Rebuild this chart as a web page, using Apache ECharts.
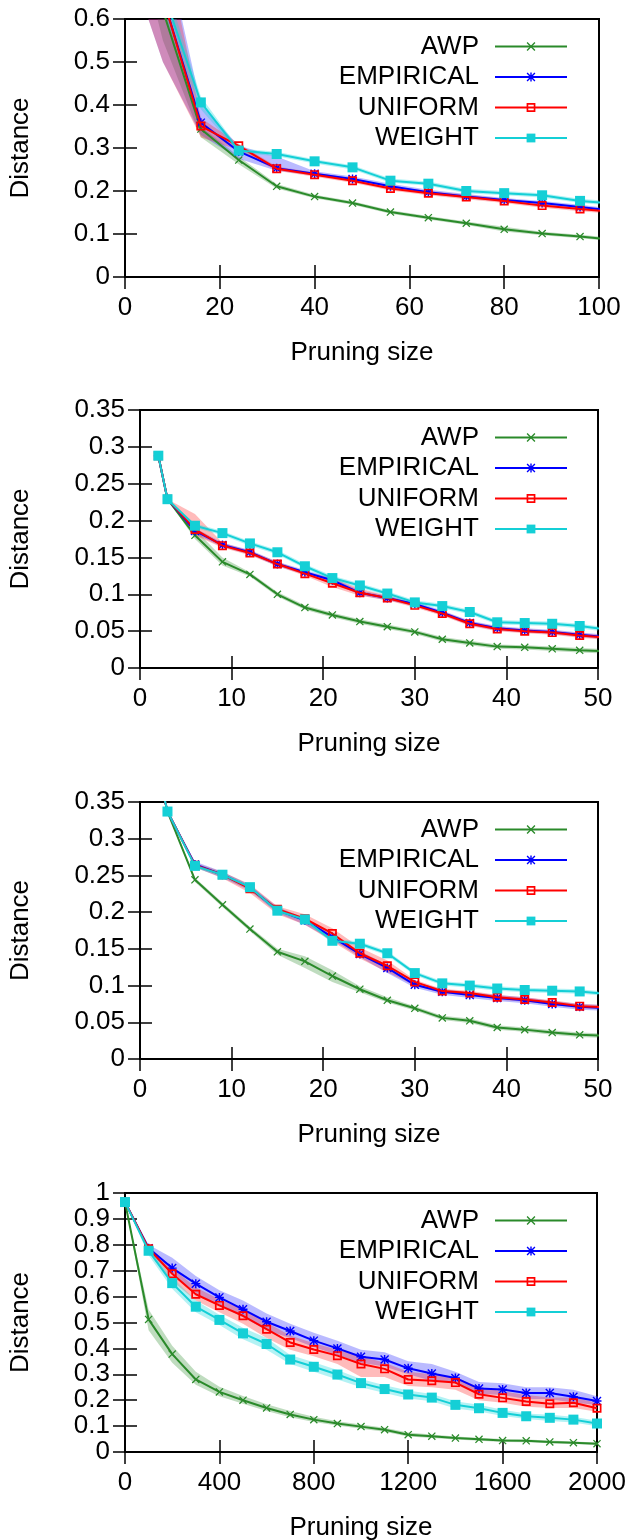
<!DOCTYPE html>
<html>
<head>
<meta charset="utf-8">
<script src="https://cdn.jsdelivr.net/npm/echarts@6/dist/echarts.min.js"></script>
<style>
  html, body { margin: 0; padding: 0; background: #fff; }
  #c { width: 634px; height: 1540px; }
</style>
</head>
<body>
<div id="c"></div>
<script>
// ---------------- DATA ----------------
const seriesNames = ['AWP', 'EMPIRICAL', 'UNIFORM', 'WEIGHT'];

// Panel 1
const p1_x = [0, 8, 16, 24, 32, 40, 48, 56, 64, 72, 80, 88, 96, 104];
const p1_awp    = [1.0, 0.62, 0.344, 0.272, 0.211, 0.187, 0.172, 0.151, 0.138, 0.125, 0.111, 0.101, 0.094, 0.086];
const p1_awp_lo = [0.9, 0.55, 0.325, 0.262, 0.206, 0.183, 0.168, 0.147, 0.134, 0.121, 0.106, 0.097, 0.090, 0.082];
const p1_awp_hi = [1.0, 0.66, 0.350, 0.280, 0.216, 0.191, 0.176, 0.155, 0.142, 0.129, 0.117, 0.105, 0.098, 0.090];
const p1_emp    = [1.0, 0.65, 0.359, 0.292, 0.253, 0.240, 0.228, 0.211, 0.197, 0.187, 0.179, 0.172, 0.163, 0.153];
const p1_emp_lo = [0.76, 0.50, 0.330, 0.275, 0.247, 0.236, 0.224, 0.207, 0.193, 0.183, 0.175, 0.168, 0.159, 0.149];
const p1_emp_hi = [1.0, 0.80, 0.400, 0.305, 0.280, 0.246, 0.234, 0.217, 0.203, 0.193, 0.184, 0.177, 0.168, 0.158];
const p1_uni    = [1.0, 0.65, 0.351, 0.305, 0.252, 0.238, 0.224, 0.206, 0.195, 0.186, 0.177, 0.166, 0.158, 0.151];
const p1_uni_lo = [0.76, 0.50, 0.325, 0.295, 0.247, 0.233, 0.219, 0.201, 0.190, 0.181, 0.172, 0.161, 0.153, 0.146];
const p1_uni_hi = [1.0, 0.80, 0.370, 0.310, 0.257, 0.243, 0.229, 0.211, 0.200, 0.191, 0.182, 0.171, 0.163, 0.156];
const p1_wgt    = [1.0, 0.665, 0.406, 0.294, 0.286, 0.269, 0.255, 0.224, 0.217, 0.200, 0.195, 0.190, 0.177, 0.170];
const p1_wgt_lo = [0.95, 0.62, 0.390, 0.289, 0.281, 0.264, 0.250, 0.219, 0.212, 0.195, 0.190, 0.185, 0.172, 0.165];
const p1_wgt_hi = [1.0, 0.70, 0.420, 0.299, 0.291, 0.274, 0.260, 0.229, 0.222, 0.205, 0.200, 0.195, 0.182, 0.175];

// Panel 2
const p2_x = [2, 3, 6, 9, 12, 15, 18, 21, 24, 27, 30, 33, 36, 39, 42, 45, 48, 51];
const p2_awp    = [0.288, 0.229, 0.180, 0.144, 0.127, 0.100, 0.082, 0.072, 0.063, 0.056, 0.049, 0.039, 0.034, 0.029, 0.028, 0.026, 0.024, 0.0225];
const p2_awp_lo = [0.288, 0.229, 0.175, 0.139, 0.124, 0.097, 0.079, 0.069, 0.060, 0.053, 0.046, 0.036, 0.031, 0.026, 0.025, 0.023, 0.021, 0.0195];
const p2_awp_hi = [0.288, 0.229, 0.188, 0.150, 0.130, 0.103, 0.085, 0.075, 0.066, 0.059, 0.052, 0.042, 0.037, 0.032, 0.031, 0.029, 0.027, 0.0255];
const p2_emp    = [0.288, 0.229, 0.186, 0.167, 0.157, 0.141, 0.130, 0.119, 0.102, 0.095, 0.087, 0.075, 0.061, 0.054, 0.051, 0.049, 0.045, 0.042];
const p2_emp_lo = [0.288, 0.229, 0.182, 0.164, 0.154, 0.138, 0.127, 0.116, 0.099, 0.092, 0.084, 0.072, 0.058, 0.051, 0.048, 0.046, 0.042, 0.039];
const p2_emp_hi = [0.288, 0.229, 0.190, 0.170, 0.160, 0.144, 0.133, 0.122, 0.105, 0.098, 0.090, 0.078, 0.064, 0.057, 0.054, 0.052, 0.048, 0.045];
const p2_uni    = [0.288, 0.229, 0.188, 0.166, 0.156, 0.141, 0.128, 0.115, 0.102, 0.095, 0.085, 0.074, 0.060, 0.053, 0.050, 0.048, 0.044, 0.041];
const p2_uni_lo = [0.288, 0.229, 0.180, 0.163, 0.153, 0.138, 0.125, 0.110, 0.098, 0.092, 0.082, 0.071, 0.057, 0.050, 0.047, 0.045, 0.041, 0.038];
const p2_uni_hi = [0.288, 0.229, 0.209, 0.170, 0.159, 0.144, 0.131, 0.122, 0.108, 0.098, 0.088, 0.077, 0.063, 0.056, 0.053, 0.051, 0.047, 0.044];
const p2_wgt    = [0.288, 0.229, 0.193, 0.183, 0.169, 0.157, 0.138, 0.122, 0.112, 0.101, 0.089, 0.084, 0.076, 0.062, 0.061, 0.060, 0.057, 0.052];
const p2_wgt_lo = [0.288, 0.229, 0.190, 0.180, 0.166, 0.154, 0.135, 0.119, 0.109, 0.098, 0.086, 0.081, 0.073, 0.059, 0.058, 0.057, 0.054, 0.049];
const p2_wgt_hi = [0.288, 0.229, 0.196, 0.186, 0.172, 0.160, 0.141, 0.125, 0.115, 0.104, 0.092, 0.087, 0.079, 0.065, 0.064, 0.063, 0.060, 0.055];

// Panel 3
const p3_x = [2, 3, 6, 9, 12, 15, 18, 21, 24, 27, 30, 33, 36, 39, 42, 45, 48, 51];
const p3_awp    = [0.39, 0.337, 0.244, 0.210, 0.177, 0.146, 0.133, 0.113, 0.095, 0.080, 0.069, 0.056, 0.052, 0.043, 0.040, 0.036, 0.033, 0.0315];
const p3_awp_lo = [0.39, 0.337, 0.241, 0.207, 0.174, 0.142, 0.124, 0.105, 0.091, 0.077, 0.066, 0.053, 0.049, 0.040, 0.037, 0.033, 0.030, 0.0285];
const p3_awp_hi = [0.39, 0.337, 0.247, 0.213, 0.180, 0.150, 0.140, 0.121, 0.099, 0.084, 0.072, 0.059, 0.055, 0.046, 0.043, 0.039, 0.036, 0.0345];
const p3_emp    = [0.39, 0.337, 0.265, 0.251, 0.233, 0.203, 0.189, 0.166, 0.143, 0.124, 0.101, 0.0915, 0.087, 0.083, 0.080, 0.075, 0.071, 0.0695];
const p3_emp_lo = [0.39, 0.337, 0.261, 0.247, 0.229, 0.199, 0.183, 0.162, 0.139, 0.117, 0.097, 0.0875, 0.083, 0.079, 0.076, 0.071, 0.067, 0.0655];
const p3_emp_hi = [0.39, 0.337, 0.269, 0.255, 0.237, 0.207, 0.192, 0.170, 0.147, 0.128, 0.105, 0.0955, 0.091, 0.087, 0.084, 0.079, 0.075, 0.0735];
const p3_uni    = [0.39, 0.337, 0.264, 0.251, 0.232, 0.204, 0.191, 0.171, 0.144, 0.127, 0.105, 0.0925, 0.090, 0.084, 0.081, 0.077, 0.072, 0.0705];
const p3_uni_lo = [0.39, 0.337, 0.261, 0.246, 0.226, 0.197, 0.183, 0.160, 0.137, 0.118, 0.100, 0.0895, 0.087, 0.081, 0.078, 0.074, 0.069, 0.0675];
const p3_uni_hi = [0.39, 0.337, 0.267, 0.255, 0.238, 0.208, 0.197, 0.178, 0.152, 0.134, 0.108, 0.0955, 0.093, 0.087, 0.084, 0.080, 0.075, 0.0735];
const p3_wgt    = [0.39, 0.337, 0.263, 0.251, 0.234, 0.202, 0.190, 0.161, 0.157, 0.144, 0.117, 0.103, 0.100, 0.096, 0.094, 0.093, 0.092, 0.0885];
const p3_wgt_lo = [0.39, 0.337, 0.260, 0.248, 0.231, 0.199, 0.187, 0.158, 0.154, 0.141, 0.114, 0.100, 0.097, 0.093, 0.091, 0.090, 0.089, 0.0855];
const p3_wgt_hi = [0.39, 0.337, 0.266, 0.254, 0.237, 0.205, 0.193, 0.164, 0.160, 0.147, 0.120, 0.106, 0.103, 0.099, 0.097, 0.096, 0.095, 0.0915];

// Panel 4
const p4_x = [0, 100, 200, 300, 400, 500, 600, 700, 800, 900, 1000, 1100, 1200, 1300, 1400, 1500, 1600, 1700, 1800, 1900, 2000];
const p4_awp    = [0.965, 0.512, 0.378, 0.280, 0.232, 0.200, 0.170, 0.145, 0.125, 0.110, 0.098, 0.086, 0.067, 0.061, 0.054, 0.049, 0.044, 0.043, 0.039, 0.036, 0.032];
const p4_awp_lo = [0.965, 0.470, 0.345, 0.260, 0.215, 0.186, 0.158, 0.134, 0.116, 0.102, 0.090, 0.078, 0.060, 0.054, 0.048, 0.043, 0.039, 0.038, 0.034, 0.031, 0.027];
const p4_awp_hi = [0.965, 0.550, 0.410, 0.310, 0.252, 0.216, 0.184, 0.158, 0.136, 0.119, 0.106, 0.094, 0.075, 0.068, 0.060, 0.055, 0.050, 0.048, 0.044, 0.041, 0.037];
const p4_emp    = [0.965, 0.787, 0.710, 0.650, 0.597, 0.551, 0.503, 0.467, 0.430, 0.400, 0.368, 0.357, 0.323, 0.303, 0.286, 0.245, 0.241, 0.228, 0.228, 0.213, 0.197];
const p4_emp_lo = [0.965, 0.775, 0.685, 0.615, 0.565, 0.520, 0.470, 0.440, 0.405, 0.375, 0.345, 0.330, 0.300, 0.275, 0.265, 0.225, 0.220, 0.205, 0.205, 0.190, 0.182];
const p4_emp_hi = [0.965, 0.800, 0.750, 0.680, 0.625, 0.585, 0.535, 0.495, 0.460, 0.430, 0.395, 0.385, 0.350, 0.340, 0.310, 0.270, 0.265, 0.250, 0.250, 0.240, 0.215];
const p4_uni    = [0.965, 0.785, 0.688, 0.609, 0.566, 0.526, 0.474, 0.423, 0.396, 0.372, 0.340, 0.321, 0.280, 0.275, 0.268, 0.223, 0.209, 0.195, 0.186, 0.190, 0.169];
const p4_uni_lo = [0.965, 0.770, 0.660, 0.585, 0.540, 0.495, 0.440, 0.395, 0.370, 0.340, 0.290, 0.290, 0.255, 0.250, 0.240, 0.200, 0.190, 0.175, 0.170, 0.170, 0.155];
const p4_uni_hi = [0.965, 0.795, 0.710, 0.635, 0.590, 0.550, 0.500, 0.450, 0.420, 0.395, 0.370, 0.345, 0.310, 0.300, 0.290, 0.250, 0.235, 0.220, 0.210, 0.210, 0.190];
const p4_wgt    = [0.965, 0.777, 0.652, 0.561, 0.510, 0.458, 0.417, 0.357, 0.329, 0.299, 0.266, 0.243, 0.222, 0.210, 0.182, 0.169, 0.151, 0.138, 0.132, 0.125, 0.110];
const p4_wgt_lo = [0.965, 0.760, 0.630, 0.540, 0.490, 0.435, 0.395, 0.340, 0.310, 0.280, 0.250, 0.228, 0.207, 0.196, 0.168, 0.156, 0.139, 0.127, 0.120, 0.114, 0.099];
const p4_wgt_hi = [0.965, 0.790, 0.675, 0.585, 0.530, 0.480, 0.440, 0.375, 0.347, 0.317, 0.282, 0.258, 0.237, 0.224, 0.196, 0.182, 0.163, 0.149, 0.144, 0.136, 0.121];

// Axis ranges / ticks
const p1_axis = { xMax: 100, xInterval: 20, yMax: 0.6, yInterval: 0.1 };
const p2_axis = { xMax: 50, xInterval: 10, yMax: 0.35, yInterval: 0.05 };
const p3_axis = { xMax: 50, xInterval: 10, yMax: 0.35, yInterval: 0.05 };
const p4_axis = { xMax: 2000, xInterval: 400, yMax: 1, yInterval: 0.1 };

const xTitle = 'Pruning size';
const yTitle = 'Distance';

// ---------------- STYLE / LAYOUT ----------------
const FONT = '"Liberation Sans", Arial, Helvetica, sans-serif';
const LINE_COLORS = ['#2a8a2a', '#0000ff', '#ff0000', '#14cfd6'];
const BAND_COLORS = ['rgba(42,138,42,0.3)', 'rgba(40,40,255,0.32)', 'rgba(255,30,30,0.3)', 'rgba(20,215,220,0.32)'];
const SYM_X = 'path://M0,1.1 L1.1,0 L10,8.9 L8.9,10 Z M8.9,0 L10,1.1 L1.1,10 L0,8.9 Z';
const SYM_STAR = 'path://M4.2,0 H5.8 V10 H4.2 Z M0,4.2 H10 V5.8 H0 Z M0,1.1 L1.1,0 L10,8.9 L8.9,10 Z M8.9,0 L10,1.1 L1.1,10 L0,8.9 Z';
const SYM_OSQ = 'path://M0,0 H10 V10 H0 Z M1.9,1.9 V8.1 H8.1 V1.9 Z';
const SYM_FSQ = 'path://M0,0 H10 V10 H0 Z';
const SYMBOLS = [SYM_X, SYM_STAR, SYM_OSQ, SYM_FSQ];
const SYM_SIZES = [8, 9, 9, 10];

const grids = [
  { left: 125, top: 19, width: 474, height: 258, nameGap: 91 },
  { left: 140, top: 410, width: 458, height: 258, nameGap: 106 },
  { left: 140, top: 802, width: 458, height: 257, nameGap: 106 },
  { left: 125, top: 1193, width: 472, height: 259, nameGap: 91 }
];

const panels = [
  { x: p1_x, axis: p1_axis, data: [[p1_awp, p1_awp_lo, p1_awp_hi], [p1_emp, p1_emp_lo, p1_emp_hi], [p1_uni, p1_uni_lo, p1_uni_hi], [p1_wgt, p1_wgt_lo, p1_wgt_hi]] },
  { x: p2_x, axis: p2_axis, data: [[p2_awp, p2_awp_lo, p2_awp_hi], [p2_emp, p2_emp_lo, p2_emp_hi], [p2_uni, p2_uni_lo, p2_uni_hi], [p2_wgt, p2_wgt_lo, p2_wgt_hi]] },
  { x: p3_x, axis: p3_axis, data: [[p3_awp, p3_awp_lo, p3_awp_hi], [p3_emp, p3_emp_lo, p3_emp_hi], [p3_uni, p3_uni_lo, p3_uni_hi], [p3_wgt, p3_wgt_lo, p3_wgt_hi]] },
  { x: p4_x, axis: p4_axis, data: [[p4_awp, p4_awp_lo, p4_awp_hi], [p4_emp, p4_emp_lo, p4_emp_hi], [p4_uni, p4_uni_lo, p4_uni_hi], [p4_wgt, p4_wgt_lo, p4_wgt_hi]] }
];

function bandRenderer(xs, lo, hi, color) {
  return function (params, api) {
    if (params.dataIndex !== 0) return null;
    const pts = [];
    for (let i = 0; i < xs.length; i++) pts.push(api.coord([xs[i], hi[i]]));
    for (let i = xs.length - 1; i >= 0; i--) pts.push(api.coord([xs[i], lo[i]]));
    return { type: 'polygon', shape: { points: pts }, style: { fill: color, stroke: null } };
  };
}

const option = {
  animation: false,
  backgroundColor: '#fff',
  textStyle: { fontFamily: FONT },
  grid: [], xAxis: [], yAxis: [], legend: [], series: []
};

const tickStyle = { show: true, inside: true, length: 12, lineStyle: { color: '#000', width: 1.5 } };

panels.forEach((p, i) => {
  const g = grids[i];
  option.grid.push({
    left: g.left, top: g.top, width: g.width, height: g.height,
    show: true, borderColor: '#000', borderWidth: 2, backgroundColor: 'transparent',
    containLabel: false, outerBoundsMode: 'none'
  });
  const xBase = { type: 'value', gridIndex: i, min: 0, max: p.axis.xMax, interval: p.axis.xInterval, splitLine: { show: false }, axisLine: { show: false } };
  const yBase = { type: 'value', gridIndex: i, min: 0, max: p.axis.yMax, interval: p.axis.yInterval, splitLine: { show: false }, axisLine: { show: false } };
  option.xAxis.push(Object.assign({}, xBase, {
    position: 'bottom', axisTick: tickStyle,
    axisLabel: { show: true, color: '#000', fontSize: 26, fontFamily: FONT, margin: 18, formatter: v => String(v) },
    name: xTitle, nameLocation: 'middle', nameGap: 63,
    nameTextStyle: { color: '#000', fontSize: 26, fontFamily: FONT }
  }));
  option.xAxis.push(Object.assign({}, xBase, {
    position: 'top', axisTick: tickStyle, axisLabel: { show: false }
  }));
  option.yAxis.push(Object.assign({}, yBase, {
    position: 'left', axisTick: tickStyle,
    axisLabel: { show: true, color: '#000', fontSize: 26, fontFamily: FONT, margin: 15 },
    name: yTitle, nameLocation: 'middle', nameGap: g.nameGap, nameRotate: 90,
    nameTextStyle: { color: '#000', fontSize: 26, fontFamily: FONT }
  }));
  option.yAxis.push(Object.assign({}, yBase, {
    position: 'right', axisTick: tickStyle, axisLabel: { show: false }
  }));

  // bands first
  p.data.forEach((d, k) => {
    option.series.push({
      type: 'custom', name: seriesNames[k] + ' band', xAxisIndex: 2 * i, yAxisIndex: 2 * i,
      clip: true, z: 1, silent: true,
      renderItem: bandRenderer(p.x, d[1], d[2], BAND_COLORS[k]),
      data: p.x.map((x, j) => [x, d[1][j], d[2][j]]),
      encode: { x: 0, y: [1, 2] }
    });
  });
  // lines
  p.data.forEach((d, k) => {
    option.series.push({
      type: 'line', name: seriesNames[k], xAxisIndex: 2 * i, yAxisIndex: 2 * i,
      clip: true, z: 3 + k,
      data: p.x.map((x, j) => [x, d[0][j]]),
      symbol: SYMBOLS[k], symbolSize: SYM_SIZES[k], showSymbol: true, showAllSymbol: true,
      lineStyle: { color: LINE_COLORS[k], width: 2 },
      itemStyle: { color: LINE_COLORS[k], borderWidth: 0 },
      emphasis: { disabled: true }
    });
  });

  option.legend.push({
    orient: 'vertical', right: 66, top: g.top + 14.5, padding: 0,
    itemWidth: 72, itemHeight: 11, itemGap: 4.5, align: 'right',
    selectedMode: false,
    textStyle: { color: '#000', fontSize: 26, fontFamily: FONT, lineHeight: 26, padding: [0, 11, 0, 0] },
    data: seriesNames.slice()
  });
});

const chart = echarts.init(document.getElementById('c'), null, { renderer: 'canvas', width: 634, height: 1540 });
chart.setOption(option);
</script>
</body>
</html>
